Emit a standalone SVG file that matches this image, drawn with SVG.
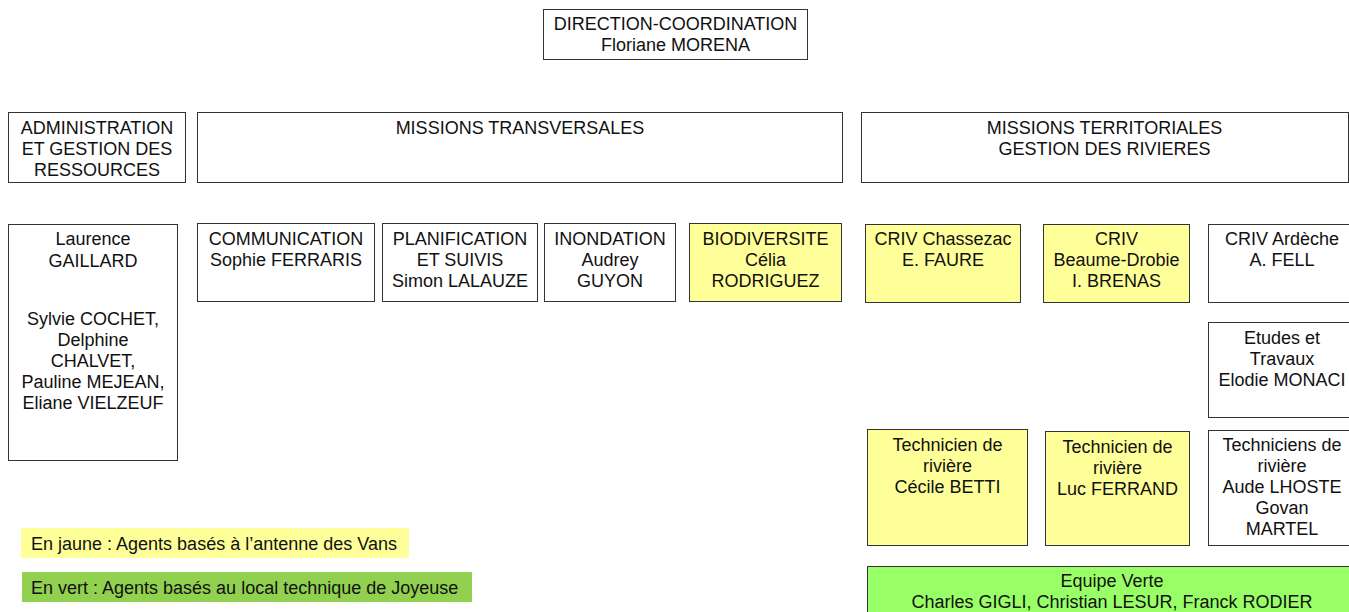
<svg xmlns="http://www.w3.org/2000/svg" width="1349" height="612" viewBox="0 0 1349 612">
<style>
  rect.b { fill: #ffffff; stroke: #333333; stroke-width: 1; }
  rect.y { fill: #ffff99; stroke: #333333; stroke-width: 1; }
  rect.g { fill: #99ff66; stroke: #333333; stroke-width: 1; }
  text { font-family: "Liberation Sans", Arial, sans-serif; font-size: 18px; fill: #111111; text-anchor: middle; }
  text.l { text-anchor: start; }
</style>
<rect x="0" y="0" width="1349" height="612" fill="#ffffff"/>
<g id="connectors"></g>

<g id="direction">
  <rect class="b" x="543.5" y="9.5" width="264" height="50"/>
  <text x="675.5" y="30">DIRECTION-COORDINATION</text>
  <text x="675.5" y="51">Floriane MORENA</text>
</g>

<g id="administration">
  <rect class="b" x="8.5" y="112.5" width="177" height="70"/>
  <text x="97" y="134">ADMINISTRATION</text>
  <text x="97" y="155">ET GESTION DES</text>
  <text x="97" y="176">RESSOURCES</text>
</g>

<g id="missions-transversales">
  <rect class="b" x="197.5" y="112.5" width="645" height="70"/>
  <text x="520" y="134">MISSIONS TRANSVERSALES</text>
</g>

<g id="missions-territoriales">
  <rect class="b" x="861.5" y="112.5" width="487" height="70"/>
  <text x="1104.5" y="134">MISSIONS TERRITORIALES</text>
  <text x="1104.5" y="155">GESTION DES RIVIERES</text>
</g>

<g id="administration-agents">
  <rect class="b" x="8.5" y="224.5" width="169" height="236"/>
  <text x="93" y="245">Laurence</text>
  <text x="93" y="266.5">GAILLARD</text>
  <text x="93" y="325">Sylvie COCHET,</text>
  <text x="93" y="346">Delphine</text>
  <text x="93" y="367">CHALVET,</text>
  <text x="93" y="388">Pauline MEJEAN,</text>
  <text x="93" y="409">Eliane VIELZEUF</text>
</g>

<g id="communication">
  <rect class="b" x="197.5" y="223.5" width="177" height="78"/>
  <text x="286" y="245">COMMUNICATION</text>
  <text x="286" y="266">Sophie FERRARIS</text>
</g>

<g id="planification">
  <rect class="b" x="382.5" y="223.5" width="155" height="78"/>
  <text x="460" y="245">PLANIFICATION</text>
  <text x="460" y="266">ET SUIVIS</text>
  <text x="460" y="287">Simon LALAUZE</text>
</g>

<g id="inondation">
  <rect class="b" x="544.5" y="223.5" width="131" height="78"/>
  <text x="610" y="245">INONDATION</text>
  <text x="610" y="266">Audrey</text>
  <text x="610" y="287">GUYON</text>
</g>

<g id="biodiversite">
  <rect class="y" x="689.5" y="223.5" width="152" height="78"/>
  <text x="765.5" y="245">BIODIVERSITE</text>
  <text x="765.5" y="266">Célia</text>
  <text x="765.5" y="287">RODRIGUEZ</text>
</g>

<g id="criv-chassezac">
  <rect class="y" x="865.5" y="224.5" width="155" height="78"/>
  <text x="943" y="245">CRIV Chassezac</text>
  <text x="943" y="266">E. FAURE</text>
</g>

<g id="criv-beaume-drobie">
  <rect class="y" x="1043.5" y="224.5" width="146" height="78"/>
  <text x="1116.5" y="245">CRIV</text>
  <text x="1116.5" y="266">Beaume-Drobie</text>
  <text x="1116.5" y="287">I. BRENAS</text>
</g>

<g id="criv-ardeche">
  <rect class="b" x="1208.5" y="224.5" width="148" height="78"/>
  <text x="1282" y="245">CRIV Ardèche</text>
  <text x="1282" y="266">A. FELL</text>
</g>

<g id="etudes-travaux">
  <rect class="b" x="1208.5" y="322.5" width="148" height="95"/>
  <text x="1282" y="344">Etudes et</text>
  <text x="1282" y="365">Travaux</text>
  <text x="1282" y="386">Elodie MONACI</text>
</g>

<g id="technicien-betti">
  <rect class="y" x="867.5" y="429.5" width="160" height="116"/>
  <text x="947.5" y="451">Technicien de</text>
  <text x="947.5" y="472">rivière</text>
  <text x="947.5" y="493">Cécile BETTI</text>
</g>

<g id="technicien-ferrand">
  <rect class="y" x="1045.5" y="431.5" width="144" height="114"/>
  <text x="1117.5" y="453">Technicien de</text>
  <text x="1117.5" y="474">rivière</text>
  <text x="1117.5" y="495">Luc FERRAND</text>
</g>

<g id="techniciens-ardeche">
  <rect class="b" x="1208.5" y="430.5" width="148" height="115"/>
  <text x="1282" y="451">Techniciens de</text>
  <text x="1282" y="472">rivière</text>
  <text x="1282" y="493">Aude LHOSTE</text>
  <text x="1282" y="514">Govan</text>
  <text x="1282" y="535">MARTEL</text>
</g>

<g id="equipe-verte">
  <rect class="g" x="867.5" y="566.5" width="490" height="60"/>
  <text x="1112" y="587">Equipe Verte</text>
  <text x="1112" y="608">Charles GIGLI, Christian LESUR, Franck RODIER</text>
</g>

<g id="legende-jaune">
  <rect x="21" y="528" width="388" height="30" fill="#ffff99"/>
  <text class="l" x="31" y="549.5">En jaune : Agents basés à l’antenne des Vans</text>
</g>

<g id="legende-vert">
  <rect x="22" y="572" width="450" height="30" fill="#92d050"/>
  <text class="l" x="31" y="594">En vert : Agents basés au local technique de Joyeuse</text>
</g>
</svg>
